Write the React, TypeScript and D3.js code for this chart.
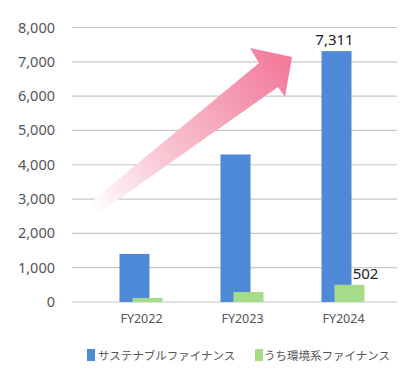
import React from "react";
import * as d3 from "d3";

const categories = ["FY2022", "FY2023", "FY2024"];
const sustainable = [1400, 4300, 7311];
const environmental = [120, 290, 502];
const yTicks = [0, 1000, 2000, 3000, 4000, 5000, 6000, 7000, 8000];
const seriesNames = ["サステナブルファイナンス", "うち環境系ファイナンス"];
const labelled = [{ series: 0, index: 2 }, { series: 1, index: 2 }];

const W = 419;
const H = 380;
const BLUE = "#4f8ad8";
const GREEN = "#a5dc8a";

export default function App() {
  const y = d3.scaleLinear().domain([0, 8000]).range([302, 27.5]);
  const x = d3.scaleBand().domain(categories).range([91, 394]).padding(0);
  const fmt = d3.format(",");
  const barW = 30;
  const gridX0 = 72;
  const gridX1 = 397;
  const center = (c: string) => (x(c) as number) + x.bandwidth() / 2;

  // arrow geometry (decorative)
  const arrow = d3.path();
  arrow.moveTo(90, 203);
  arrow.lineTo(259, 63);
  arrow.lineTo(250, 48);
  arrow.lineTo(292, 57);
  arrow.lineTo(285, 97);
  arrow.lineTo(278, 87);
  arrow.lineTo(99, 213);
  arrow.closePath();

  return (
    <svg width={W} height={H} style={{ position: "absolute", left: 0, top: 0, background: "#fff" }}>
      <defs>
        <linearGradient id="arrowGrad" x1="90" y1="208" x2="292" y2="70" gradientUnits="userSpaceOnUse">
          <stop offset="0" stopColor="#ffffff" stopOpacity="1" />
          <stop offset="0.35" stopColor="#f8c9d6" />
          <stop offset="1" stopColor="#f37a9b" />
        </linearGradient>
      </defs>
      {yTicks.map((t) => (
        <g key={t}>
          <line x1={gridX0} x2={gridX1} y1={y(t)} y2={y(t)} stroke="#c8c8c8" strokeWidth={1.2} />
          <text x={55} y={y(t) + 5} textAnchor="end" fontSize={14.5} fill="#555" fontFamily="'Noto Sans', sans-serif">
            {fmt(t)}
          </text>
        </g>
      ))}
      <path d={arrow.toString()} fill="url(#arrowGrad)" />
      {categories.map((c, i) => (
        <g key={c}>
          <rect x={center(c) - 22} y={y(sustainable[i])} width={barW} height={y(0) - y(sustainable[i])} fill={BLUE} />
          <rect x={center(c) - 9} y={y(environmental[i])} width={barW} height={y(0) - y(environmental[i])} fill={GREEN} />
          <text x={center(c)} y={323} textAnchor="middle" fontSize={12.5} fill="#555" fontFamily="'Noto Sans', sans-serif">
            {c}
          </text>
        </g>
      ))}
      {labelled.map((l) => {
        const vals = l.series === 0 ? sustainable : environmental;
        const c = categories[l.index];
        const v = vals[l.index];
        const cx = l.series === 0 ? center(c) - 9 : center(c) + 22;
        return (
          <text key={l.series} x={cx} y={y(v) - 6} textAnchor="middle" fontSize={15} fill="#222" fontFamily="'Noto Sans', sans-serif">
            {fmt(v)}
          </text>
        );
      })}
      <g fontFamily="'Noto Sans CJK JP', sans-serif" fontSize={11.5} fill="#555">
        <rect x={87} y={349} width={8} height={12} fill={BLUE} />
        <text x={98} y={359.5}>{seriesNames[0]}</text>
        <rect x={255} y={349} width={8} height={12} fill={GREEN} />
        <text x={264} y={359.5}>{seriesNames[1]}</text>
      </g>
    </svg>
  );
}
